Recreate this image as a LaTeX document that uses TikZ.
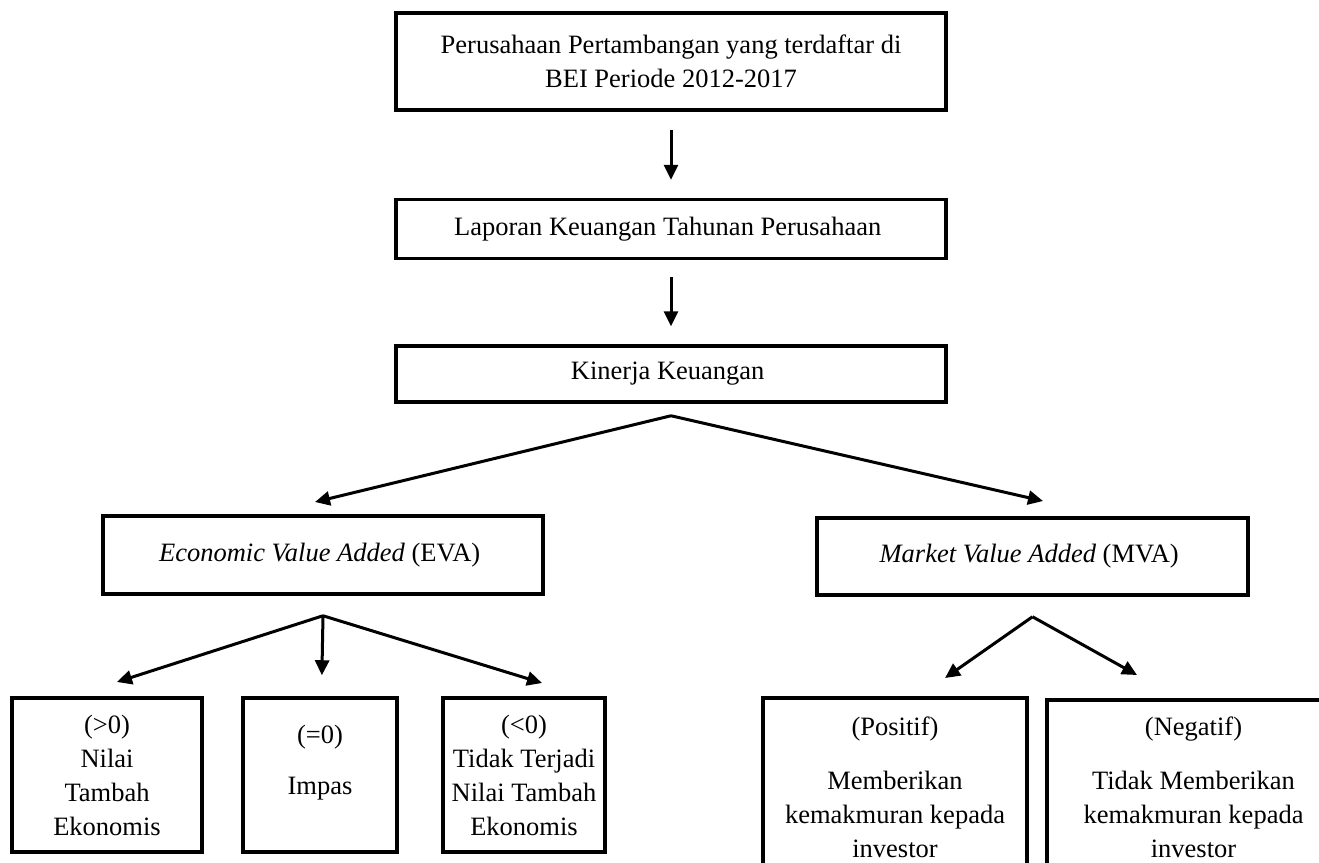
\documentclass[tikz,border=0pt]{standalone}
\usepackage{fontspec}
\setmainfont{Liberation Serif}
\usetikzlibrary{shapes.geometric, arrows.meta}
\usetikzlibrary{positioning}
\tikzstyle{rect} = [rectangle,
minimum width=550pt,
text centered,
align=center,
line width=3.5pt,
font=\fontsize{26.5}{34}\selectfont,
draw=black]
\tikzstyle{leaf} = [rect,
minimum height=154pt]
\tikzstyle{arrow} = [line width=3pt,-{Triangle[length=15pt,width=14pt]}]

\begin{document}
\begin{tikzpicture}[x=1pt,y=-1pt]
\useasboundingbox (0,0) rectangle (1319,862);
\clip (0,0) rectangle (1319,862);

\node (perusahaan) [rect, minimum height=97pt] at (671,61.5) {
  Perusahaan Pertambangan yang terdaftar di\\
  BEI Periode 2012-2017
};

\node (laporan) [rect, minimum height=59pt, below=86pt of perusahaan] {
  Laporan Keuangan Tahunan Perusahaan
};

\node (kinerja) [rect, minimum height=56pt, below=84pt of laporan] {
  Kinerja Keuangan
};

\node (eva) [rect, minimum width=440pt, minimum height=78pt] at (323,555) {
  \textit{Economic Value Added} (EVA)
};

\node (mva) [rect, minimum width=431pt, minimum height=77pt] at (1032.5,556.5) {
  \textit{Market Value Added} (MVA)
};

\node (positif_eva) [leaf, minimum width=190pt] at (107,775) {
  (>0)\\ Nilai\\ Tambah\\ Ekonomis
};

\node (impas) [leaf, minimum width=154pt] at (320,775) {
  (=0)\\[17pt] Impas\\[-13pt] \strut
};

\node (negatif_eva) [leaf, minimum width=162pt] at (524,775) {
  (<0)\\ Tidak Terjadi\\ Nilai Tambah\\ Ekonomis
};

\node (positif_mva) [leaf, minimum width=264pt, minimum height=178pt] at (895,787) {
  (Positif)\\[20pt]
  Memberikan\\ kemakmuran kepada\\ investor
};

\node (negatif_mva) [leaf, minimum width=293pt, minimum height=174pt] at (1193.5,787) {
  (Negatif)\\[20pt]
  Tidak Memberikan\\ kemakmuran kepada\\ investor
};

% branch points and arrow ends
\coordinate [below=12pt of kinerja.south] (kin_split);
\coordinate [below=20pt of eva.south] (eva_split);
\coordinate [below=20pt of mva.south] (mva_split);
\coordinate (eva_in) at (315,502);
\coordinate (mva_in) at (1043,501);
\coordinate (pos_eva_in) at (117,682);
\coordinate (neg_eva_in) at (542,683);
\coordinate (pos_mva_in) at (945,678);
\coordinate (neg_mva_in) at (1137,675);

\draw [arrow, shorten <=18pt, shorten >=18pt] (perusahaan) -- (laporan);
\draw [arrow, shorten <=17pt, shorten >=18pt] (laporan) -- (kinerja);
\draw [arrow] (kin_split) -- (eva_in);
\draw [arrow] (kin_split) -- (mva_in);
\draw [arrow] (eva_split) -- (pos_eva_in);
\draw [arrow, shorten >=21pt] (eva_split) -- (impas);
\draw [arrow] (eva_split) -- (neg_eva_in);
\draw [arrow] (mva_split) -- (pos_mva_in);
\draw [arrow] (mva_split) -- (neg_mva_in);

\end{tikzpicture}
\end{document}
